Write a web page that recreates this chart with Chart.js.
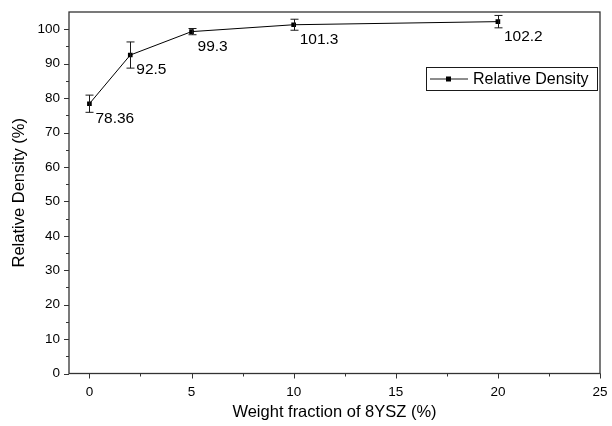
<!DOCTYPE html>
<html>
<head>
<meta charset="utf-8">
<script src="https://cdn.jsdelivr.net/npm/chart.js@4/dist/chart.umd.min.js"></script>
<style>
  html, body { margin: 0; padding: 0; background: #fff; }
  #wrap { width: 612px; height: 426px; }
</style>
</head>
<body>
<div id="wrap"><canvas id="chart" width="612" height="426"></canvas></div>
<script>
// data
const weightFraction = [0, 2, 5, 10, 20];
const relDensity = [78.36, 92.5, 99.3, 101.3, 102.2];
const relDensityErr = [2.5, 3.8, 0.9, 1.6, 1.8];
const pointLabels = ['78.36', '92.5', '99.3', '101.3', '102.2'];
const xTicks = [0, 2.5, 5, 7.5, 10, 12.5, 15, 17.5, 20, 22.5, 25];
const yTicks = [0, 5, 10, 15, 20, 25, 30, 35, 40, 45, 50, 55, 60, 65, 70, 75, 80, 85, 90, 95, 100];

const FONT = '"Liberation Sans", Arial, sans-serif';
const INK = '#1a1a1a';

// error bars, value labels, minor/major ticks, frame and legend
const extras = {
    id: 'extras',
    afterDatasetsDraw(chart) {
        const ctx = chart.ctx;
        const xs = chart.scales.x, ys = chart.scales.y;
        const area = chart.chartArea;
        const meta = chart.getDatasetMeta(0);
        ctx.save();

        // error bars
        ctx.strokeStyle = INK;
        ctx.lineWidth = 1;
        relDensity.forEach((v, i) => {
            const px = Math.round(xs.getPixelForValue(weightFraction[i])) + 0.5;
            const top = ys.getPixelForValue(v + relDensityErr[i]);
            const bot = ys.getPixelForValue(v - relDensityErr[i]);
            ctx.beginPath();
            ctx.moveTo(px, top); ctx.lineTo(px, bot);
            ctx.moveTo(px - 4, top); ctx.lineTo(px + 4, top);
            ctx.moveTo(px - 4, bot); ctx.lineTo(px + 4, bot);
            ctx.stroke();
        });

        // value labels
        ctx.fillStyle = '#000';
        ctx.font = '15.5px ' + FONT;
        ctx.textAlign = 'left';
        ctx.textBaseline = 'middle';
        meta.data.forEach((pt, i) => {
            ctx.fillText(pointLabels[i], pt.x + 6, pt.y + 15);
        });

        // frame
        ctx.strokeStyle = '#333';
        ctx.lineWidth = 1.3;
        ctx.strokeRect(area.left, area.top, area.right - area.left, area.bottom - area.top);

        // outward ticks
        ctx.lineWidth = 1;
        ctx.beginPath();
        xTicks.forEach(v => {
            const px = Math.round(xs.getPixelForValue(v)) + 0.5;
            const len = v % 5 === 0 ? 5 : 3;
            ctx.moveTo(px, area.bottom); ctx.lineTo(px, area.bottom + len);
        });
        yTicks.forEach(v => {
            const py = Math.round(ys.getPixelForValue(v)) + 0.5;
            const len = v % 10 === 0 ? 5 : 3;
            ctx.moveTo(area.left, py); ctx.lineTo(area.left - len, py);
        });
        ctx.stroke();

        // legend box
        const lx = 426, ly = 67, lw = 171, lh = 23;
        ctx.strokeStyle = INK;
        ctx.lineWidth = 1;
        ctx.strokeRect(lx + 0.5, ly + 0.5, lw, lh);
        ctx.beginPath();
        ctx.moveTo(lx + 4, ly + lh / 2 + 0.5);
        ctx.lineTo(lx + 42, ly + lh / 2 + 0.5);
        ctx.stroke();
        ctx.fillStyle = '#000';
        ctx.fillRect(lx + 20, ly + lh / 2 - 2, 5, 5);
        ctx.font = '16px ' + FONT;
        ctx.textBaseline = 'middle';
        ctx.fillText(chart.data.datasets[0].label, lx + 47, ly + lh / 2 + 1);

        ctx.restore();
    }
};

new Chart(document.getElementById('chart'), {
    type: 'scatter',
    data: {
        datasets: [{
            label: 'Relative Density',
            data: weightFraction.map((x, i) => ({ x: x, y: relDensity[i] })),
            showLine: true,
            borderColor: '#000',
            borderWidth: 1,
            backgroundColor: '#000',
            pointStyle: 'rect',
            pointRadius: 3.3,
            pointBorderWidth: 0
        }]
    },
    options: {
        responsive: false,
        animation: false,
        layout: { padding: { top: 12, right: 12, left: 8, bottom: 0 } },
        plugins: {
            legend: { display: false },
            tooltip: { enabled: false }
        },
        scales: {
            x: {
                type: 'linear',
                min: -1,
                max: 25,
                afterBuildTicks: s => { s.ticks = xTicks.map(v => ({ value: v })); },
                afterFit: s => { s.height = 52.5; s.paddingLeft = 0; s.paddingRight = 0; },
                grid: { display: false, drawTicks: false },
                border: { display: false },
                ticks: {
                    padding: 11,
                    color: '#000',
                    font: { family: FONT, size: 13.5 },
                    callback: v => (v % 5 === 0 ? v : '')
                },
                title: {
                    display: true,
                    text: 'Weight fraction of 8YSZ (%)',
                    color: '#000',
                    font: { family: FONT, size: 16.5 },
                    padding: { top: 2 }
                }
            },
            y: {
                type: 'linear',
                min: 0,
                max: 105,
                afterBuildTicks: s => { s.ticks = yTicks.map(v => ({ value: v })); },
                afterFit: s => { s.width = 61; s.paddingTop = 0; s.paddingBottom = 0; },
                grid: { display: false, drawTicks: false },
                border: { display: false },
                ticks: {
                    padding: 9,
                    color: '#000',
                    font: { family: FONT, size: 13.5 },
                    callback: v => (v % 10 === 0 ? v : '')
                },
                title: {
                    display: true,
                    text: 'Relative Density (%)',
                    color: '#000',
                    font: { family: FONT, size: 16.5 },
                    padding: { top: 2, bottom: 4 }
                }
            }
        }
    },
    plugins: [extras]
});
</script>
</body>
</html>
